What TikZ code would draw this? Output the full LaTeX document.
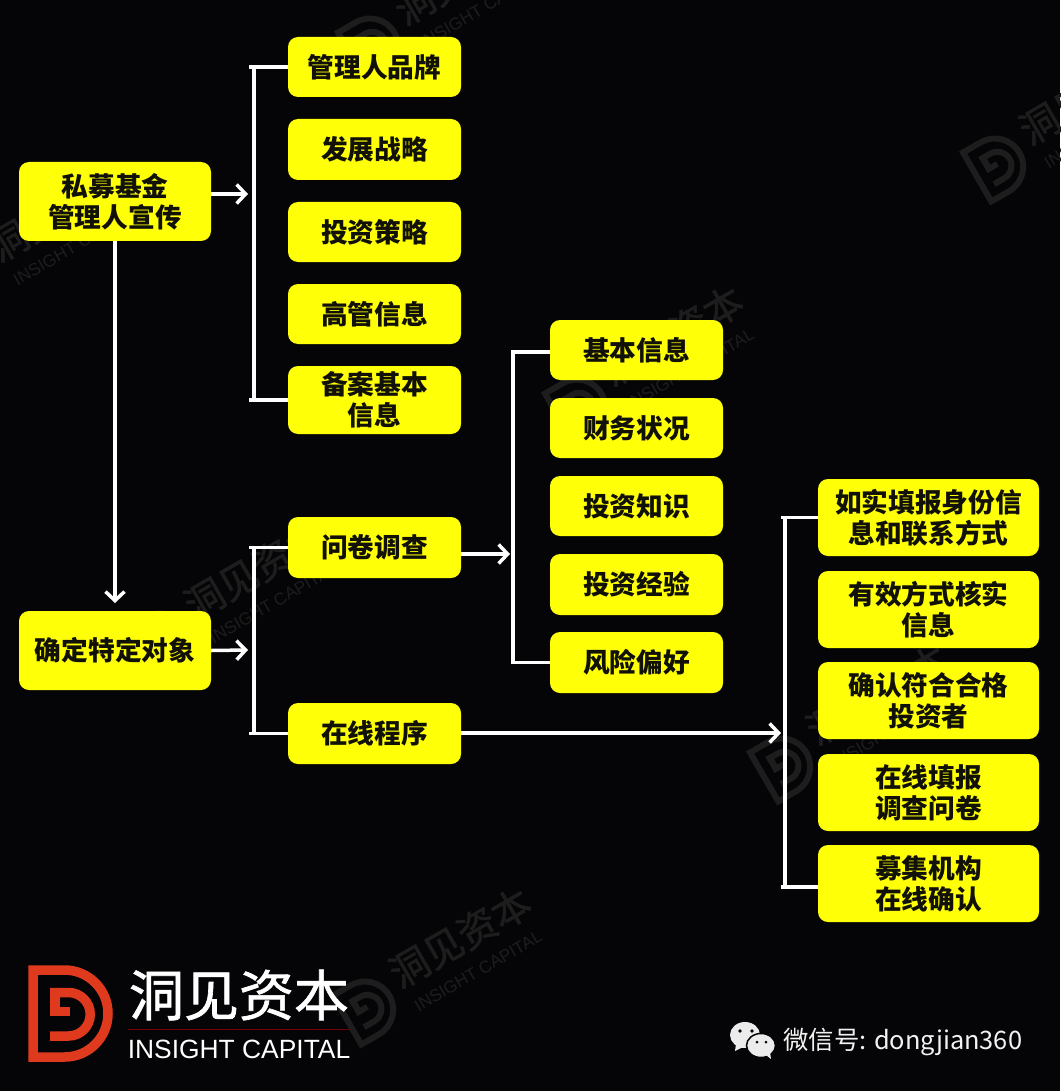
\documentclass[tikz,border=0pt]{standalone}
\usepackage{fontspec}
\usetikzlibrary{arrows.meta}
\newfontfamily\cjk{Noto Sans CJK SC}
\newfontfamily\cjkm[FakeBold=1.2]{Noto Sans CJK SC}
\newfontfamily\latinf{Liberation Sans}
\definecolor{bgc}{HTML}{050507}
\definecolor{yel}{HTML}{FFFF08}
\definecolor{ink}{HTML}{111108}
\definecolor{wmc}{HTML}{1D1D1E}
\definecolor{logor}{HTML}{E03A1E}
\newcommand{\dlogo}[3]{% colour, scale, stroke width
  \begin{scope}[scale=#2]
    \draw[#1,line width=#3,line join=miter] (-37,-43.5) -- (-5.5,-43.5) arc[start angle=-90,end angle=90,radius=43.5] -- (-37,43.5) -- cycle;
    \draw[#1,line width=#3] (-20,22.5) -- (-1.5,22.5) arc[start angle=90,end angle=-90,radius=21.75] -- (-20,-21);
    \fill[#1] (-20,-25.5) rectangle (-10,2.5);
    \fill[#1] (-20,-6.5) rectangle (0,2.5);
  \end{scope}
}
\tikzset{
  x=1pt,y=-1pt,
  box/.style={fill=yel,rounded corners=10pt,inner sep=0pt,align=center,text=ink,
    font=\cjk\bfseries\fontsize{26.7}{31}\selectfont},
  boxa/.style={box,minimum width=173pt},
  boxl/.style={box,minimum width=192pt},
  boxd/.style={box,minimum width=221pt,minimum height=77pt},
  conn/.style={draw=white,line width=3.5pt},
  arr/.style={conn,-{Straight Barb[length=9pt,width=19pt,line width=3.5pt]}},
}
\begin{document}
\begin{tikzpicture}
\useasboundingbox (0,0) rectangle (1060,1091);
\fill[bgc] (0,0) rectangle (1060,1091);
% watermarks
\foreach \wx/\wy in {368/1008,580/406,163/640,998/165,785/765,373/45,-33/282}{
  \begin{scope}[shift={(\wx,\wy)},rotate=30,transform shape]
    \dlogo{wmc}{0.65}{6pt}
    \node[wmc,font=\cjkm\fontsize{39}{39}\selectfont] at (115,-15) {洞见资本};
    \node[wmc,font=\latinf\fontsize{17.1}{17.1}\selectfont] at (114,23) {INSIGHT CAPITAL};
  \end{scope}
}
% nodes
\node[boxl,minimum height=79pt] (L1) at (115,201.5) {私募基金\\管理人宣传};
\node[boxl,minimum height=79pt] (L2) at (115,650.5) {确定特定对象};
\node[boxa,minimum height=60pt] (A1) at (374.5,67) {管理人品牌};
\node[boxa,minimum height=61pt] (A2) at (374.5,149.5) {发展战略};
\node[boxa,minimum height=60pt] (A3) at (374.5,232) {投资策略};
\node[boxa,minimum height=60pt] (A4) at (374.5,314) {高管信息};
\node[boxa,minimum height=68pt] (A5) at (374.5,400) {备案基本\\信息};
\node[boxa,minimum height=61pt] (B1) at (374.5,547.5) {问卷调查};
\node[boxa,minimum height=61pt] (B2) at (374.5,733.5) {在线程序};
\node[boxa,minimum height=60pt] (C1) at (636.5,350) {基本信息};
\node[boxa,minimum height=60pt] (C2) at (636.5,428) {财务状况};
\node[boxa,minimum height=60pt] (C3) at (636.5,506) {投资知识};
\node[boxa,minimum height=61pt] (C4) at (636.5,584.5) {投资经验};
\node[boxa,minimum height=61pt] (C5) at (636.5,662.5) {风险偏好};
\node[boxd] (D1) at (928.5,517.5) {如实填报身份信\\息和联系方式};
\node[boxd] (D2) at (928.5,609.5) {有效方式核实\\信息};
\node[boxd] (D3) at (928.5,700.5) {确认符合合格\\投资者};
\node[boxd] (D4) at (928.5,792.5) {在线填报\\调查问卷};
\node[boxd] (D5) at (928.5,883.5) {募集机构\\在线确认};
% junction coordinates
\coordinate (sA) at (254,0);
\coordinate (sC) at (513,0);
\coordinate (sD) at (785,0);
\coordinate (tipL1) at (248,194);
\coordinate (tipL2) at (248,650);
\coordinate (tipB1) at (510,554);
\coordinate (tipB2) at (781,733);
\coordinate (tipV) at (115,603);
\coordinate (jC1) at ([yshift=-2pt]C1.west);
\coordinate (jD5) at ([yshift=-3.5pt]D5.west);
% connectors
\draw[conn] (A1.west) -- ([xshift=-39pt]A1.west);
\draw[conn] (A5.west) -- ([xshift=-39pt]A5.west);
\draw[conn] (A1.west -| sA) -- (A5.west -| sA);
\draw[arr] (L1.east |- tipL1) -- (tipL1);
\draw[arr] (L1.south) -- (tipV);
\draw[arr] (L2.east) -- (tipL2);
\draw[conn] (B1.west) -- ([xshift=-39pt]B1.west);
\draw[conn] (B2.west) -- ([xshift=-39pt]B2.west);
\draw[conn] (B1.west -| sA) -- (B2.west -| sA);
\draw[arr] (B1.east |- tipB1) -- (tipB1);
\draw[conn] (jC1) -- ([xshift=-39pt]jC1);
\draw[conn] (C5.west) -- ([xshift=-39pt]C5.west);
\draw[conn] (jC1 -| sC) -- (C5.west -| sC);
\draw[arr] (B2.east |- tipB2) -- (tipB2);
\draw[conn] (D1.west) -- ([xshift=-37pt]D1.west);
\draw[conn] (jD5) -- ([xshift=-37pt]jD5);
\draw[conn] (D1.west -| sD) -- (jD5 -| sD);
% logo
\begin{scope}[shift={(70,1013.5)}]
  \dlogo{logor}{1}{9.5pt}
\end{scope}
\node[white,font=\cjkm\fontsize{55}{55}\selectfont] (brand) at (239,995) {洞见资本};
\draw[draw=red!45!black,line width=1pt] (128,1029) -- (350,1029);
\node[white,font=\latinf\fontsize{26.4}{26.4}\selectfont] (brandE) at (239,1049) {INSIGHT CAPITAL};
% wechat
\fill[gray!15!white] (745,1035) ellipse[x radius=15,y radius=13];
\fill[gray!15!white] (736,1044) -- (735,1051) -- (743,1047) -- cycle;
\fill[gray!15!white,draw=bgc,line width=1.5pt] (761,1045.5) ellipse[x radius=14.5,y radius=12];
\fill[gray!15!white] (766,1055) -- (771,1059) -- (770,1052) -- cycle;
\fill[bgc] (740,1031) circle[radius=1.8] (752,1031) circle[radius=1.8] (757,1042) circle[radius=1.5] (766,1042) circle[radius=1.5];
\node[anchor=west,inner sep=0pt,text=gray!10!white,font=\cjk\fontsize{25.4}{25.4}\selectfont] (wx) at (783,1042) {微信号: dongjian360};
\end{tikzpicture}
\end{document}
